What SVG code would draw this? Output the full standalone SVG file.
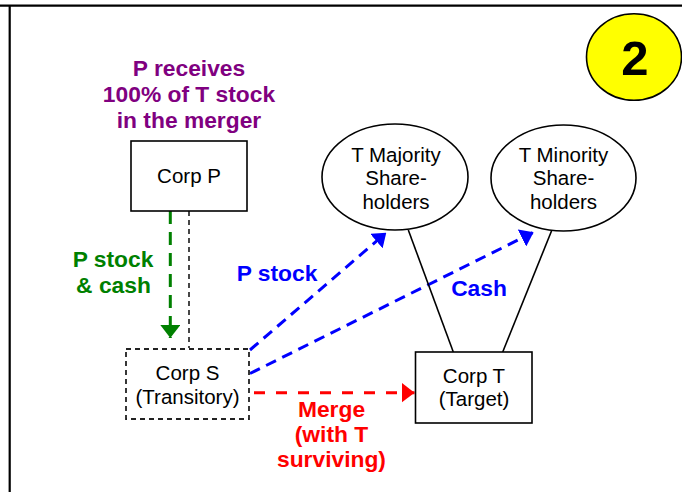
<svg xmlns="http://www.w3.org/2000/svg" width="682" height="492" viewBox="0 0 682 492">
<defs>
<style>
text{font-family:"Liberation Sans",Arial,sans-serif;text-anchor:middle}
.n{font-size:20.5px;fill:#000}
.b{font-size:22.8px;font-weight:bold}
.box{fill:#fff;stroke:#000;stroke-width:1.6}
.ell{fill:#fff;stroke:#000;stroke-width:1.6}
</style>
<marker id="ag" markerWidth="13" markerHeight="20" refX="13" refY="10" markerUnits="userSpaceOnUse" orient="auto" viewBox="0 0 13 20"><path d="M0,0 L13,10 L0,20 Z" fill="#008000"/></marker>
<marker id="ab" markerWidth="13" markerHeight="19" refX="12" refY="9.5" markerUnits="userSpaceOnUse" orient="auto" viewBox="0 0 13 19"><path d="M0,0 L13,9.5 L0,19 Z" fill="#0000FF"/></marker>
<marker id="ar" markerWidth="13" markerHeight="20" refX="13" refY="10" markerUnits="userSpaceOnUse" orient="auto" viewBox="0 0 13 20"><path d="M0,0 L13,10 L0,20 Z" fill="#FF0000"/></marker>
</defs>
<rect width="682" height="492" fill="#fff"/>
<g id="frame" stroke="#000" stroke-width="2.2" fill="none">
<line x1="0" y1="5.7" x2="682" y2="5.7"/>
<line x1="9.7" y1="5" x2="9.7" y2="492"/>
</g>
<g id="badge">
<ellipse cx="634" cy="57" rx="47.5" ry="43.3" fill="#FFFF00" stroke="#000" stroke-width="1.6"/>
<text x="635" y="75" style="font-size:49px;font-weight:bold" fill="#000">2</text>
</g>
<g id="connectors" fill="none">
<line x1="170.3" y1="211" x2="170.3" y2="338" stroke="#008000" stroke-width="3" stroke-dasharray="13,8" marker-end="url(#ag)"/>
<line x1="189" y1="211" x2="189" y2="348" stroke="#333" stroke-width="1.8" stroke-dasharray="5,4"/>
<line x1="250" y1="350" x2="385.5" y2="233.3" stroke="#0000FF" stroke-width="3" stroke-dasharray="11,7" marker-end="url(#ab)"/>
<line x1="250" y1="373.5" x2="532.7" y2="232.7" stroke="#0000FF" stroke-width="3" stroke-dasharray="11,7" marker-end="url(#ab)"/>
<line x1="254" y1="392.7" x2="414.5" y2="392.7" stroke="#FF0000" stroke-width="3" stroke-dasharray="11,11" marker-end="url(#ar)"/>
<line x1="408.3" y1="230" x2="453.3" y2="352" stroke="#000" stroke-width="1.6"/>
<line x1="551.7" y1="230.5" x2="502.7" y2="352" stroke="#000" stroke-width="1.6"/>
</g>
<g id="corpP">
<rect class="box" x="131" y="141" width="116" height="70"/>
<text class="n" x="189" y="183">Corp P</text>
</g>
<g id="corpS">
<rect x="126" y="349" width="123" height="70" fill="#fff" stroke="#222" stroke-width="1.8" stroke-dasharray="5,4"/>
<text class="n" x="187.5" y="379.5">Corp S</text>
<text class="n" x="187.5" y="403.5">(Transitory)</text>
</g>
<g id="corpT">
<rect class="box" x="415.5" y="352" width="116.5" height="71"/>
<text class="n" x="474" y="382.5">Corp T</text>
<text class="n" x="474" y="406">(Target)</text>
</g>
<g id="majority">
<ellipse class="ell" cx="395" cy="177" rx="73" ry="53"/>
<text class="n" x="396" y="161.5">T Majority</text>
<text class="n" x="396" y="185">Share-</text>
<text class="n" x="396" y="208.5">holders</text>
</g>
<g id="minority">
<ellipse class="ell" cx="563.5" cy="178" rx="72.5" ry="53"/>
<text class="n" x="563.5" y="161.5">T Minority</text>
<text class="n" x="563.5" y="185">Share-</text>
<text class="n" x="563.5" y="208.5">holders</text>
</g>
<g id="labels">
<text class="b" x="189" y="76" fill="#800080">P receives</text>
<text class="b" x="189" y="102" fill="#800080">100% of T stock</text>
<text class="b" x="189" y="128" fill="#800080">in the merger</text>
<text class="b" x="113" y="267" fill="#008000">P stock</text>
<text class="b" x="113.5" y="293" fill="#008000">&amp; cash</text>
<text class="b" x="277" y="281" fill="#0000FF">P stock</text>
<text class="b" x="479" y="296" fill="#0000FF">Cash</text>
<text class="b" x="331.5" y="416.5" fill="#FF0000">Merge</text>
<text class="b" x="331.5" y="441.5" fill="#FF0000">(with T</text>
<text class="b" x="331.5" y="466.5" fill="#FF0000">surviving)</text>
</g>
</svg>
